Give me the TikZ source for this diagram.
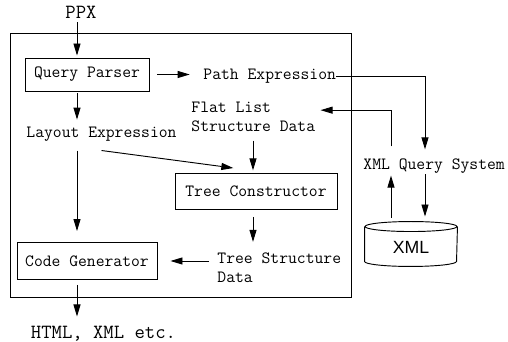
\documentclass[tikz,border=0pt]{standalone}
\usepackage{fontspec}
\usepackage{tikz}
\usetikzlibrary{arrows.meta}
\newfontfamily\dbfont{Liberation Sans}

\tikzset{
  arr/.style={-{Triangle[length=9pt,width=5.25pt]}},
  txt/.style={inner sep=0pt, font=\ttfamily\fontsize{12.86}{14.25}\selectfont, align=left},
  box/.style={draw, txt},
  io/.style={inner sep=0pt, font=\ttfamily\fontsize{15.1}{18}\selectfont}
}

\begin{document}
\begin{tikzpicture}[x=0.75pt, y=-0.75pt, line width=0.7pt]
  \useasboundingbox (0,0) rectangle (508,342);
  \draw (10,33) rectangle (351,297);

  \coordinate (left) at (77,0);
  \coordinate (mid) at (253,0);
  \coordinate (qup) at (391,0);
  \coordinate (qdown) at (425,0);

  \node[io, anchor=base] (ppx) at (81,19) {PPX};
  \node[box, minimum width=93pt, minimum height=24.75pt] (qp) at (87,74.5) {Query Parser};
  \node[txt, anchor=base west] (pe) at (203,79.5) {Path Expression};
  \node[txt, anchor=base] (layout) at (101.5,138) {Layout Expression};
  \node[txt, anchor=base west] (flat) at (191,132) {Flat List\\Structure Data};
  \node[box, minimum width=121.5pt, minimum height=27pt] (tc) at (256,191.5) {Tree Constructor};
  \node[txt, anchor=base west] (tsd) at (217,283) {Tree Structure\\Data};
  \node[box, minimum width=105pt, minimum height=27.75pt] (cg) at (87,261) {Code Generator};
  \node[io, anchor=base] (out) at (103.5,339) {HTML, XML etc.};
  \node[txt, anchor=base west] (xqs) at (363,170) {XML Query System};
  \node[minimum width=69pt, minimum height=33pt, inner sep=0pt, font=\dbfont\fontsize{13.25}{16}\selectfont] (xml) at (411,247) {XML};

  \draw ([yshift=-1.5pt]xml.north west) -- ([yshift=6pt]xml.south west)
    arc[start angle=180, end angle=360, x radius=34.5pt, y radius=3.75pt] -- ([yshift=-1.5pt]xml.north east);
  \draw ([yshift=-1.5pt]xml.north) ellipse[x radius=34.5pt, y radius=3.75pt];

  \draw[arr, shorten <=2.25pt, shorten >=1.5pt] (ppx.south -| left) -- (qp.north -| left);
  \draw[arr, shorten <=6pt, shorten >=10pt] (qp.east) -- (qp.east -| pe.west);
  \draw[arr, shorten <=1.5pt, shorten >=5.6pt] (qp.south -| left) -- (layout.north -| left);
  \draw[arr, shorten <=6.1pt, shorten >=8.25pt] (layout.south -| left) -- (cg.north -| left);
  \draw[arr] ([yshift=-6.1pt]layout.south) -- ([xshift=-17pt,yshift=3.75pt]tc.north);
  \draw[arr, shorten <=6pt, shorten >=2pt] (flat.south -| mid) -- (tc.north -| mid);
  \draw[arr, shorten <=5.25pt, shorten >=8.25pt] (tc.south -| mid) -- (tsd.north -| mid);
  \draw[arr, shorten <=6pt, shorten >=9.75pt] (cg.east -| tsd.west) -- (cg.east);
  \draw[arr, shorten <=3.75pt, shorten >=7.3pt] (cg.south -| left) -- (out.north -| left);
  \draw[arr, shorten >=7.1pt] (pe.east) -| (xqs.north -| qdown);
  \draw[arr, shorten <=9.4pt, shorten >=3.75pt] (xqs.north -| qup) |- ([yshift=5.4pt]flat.east);
  \draw[arr, shorten >=6pt] (xqs.south -| qdown) -- (xml.north -| qdown);
  \draw[arr, shorten <=5.25pt, shorten >=0.9pt] (xml.north -| qup) -- (xqs.south -| qup);
\end{tikzpicture}
\end{document}
